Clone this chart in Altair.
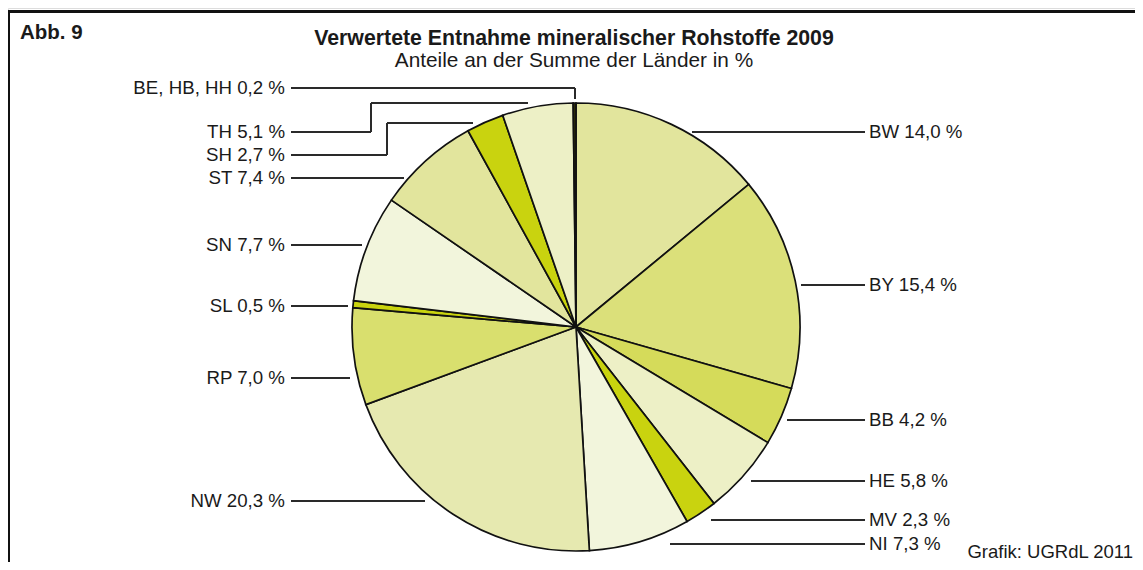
import altair as alt
import pandas as pd

# ---- data ----
laender = ["BW", "BY", "BB", "HE", "MV", "NI", "NW", "RP", "SL", "SN", "ST", "SH", "TH", "BE, HB, HH"]
anteile = [14.0, 15.4, 4.2, 5.8, 2.3, 7.3, 20.3, 7.0, 0.5, 7.7, 7.4, 2.7, 5.1, 0.2]
farben = ["#e2e59d", "#dbe07a", "#d5db5a", "#edf0c6", "#c9d30f", "#f2f5dc", "#e6e9b0",
          "#d9df6e", "#c9d30f", "#f2f5dc", "#e2e59d", "#c9d30f", "#edf0c6", "#2e2e08"]

titel = "Verwertete Entnahme mineralischer Rohstoffe 2009"
untertitel = "Anteile an der Summe der Länder in %"
abb = "Abb. 9"
quelle = "Grafik: UGRdL 2011"

# ---- layout (page pixel coordinates) ----
W, H = 1127, 554
X0, Y0 = 8, 8
CX, CY, R = 576, 327, 224

lab_side = ["r", "r", "r", "r", "r", "r", "l", "l", "l", "l", "l", "l", "l", "l"]
lab_y = [132, 285, 420, 481, 520, 544, 501, 378, 306, 245, 178, 155, 132, 88]
segs = [
    (692, 132, 865, 132), (801, 285, 865, 285), (787, 420, 865, 420),
    (751, 481, 865, 481), (711, 520, 865, 520), (670, 544, 865, 544),
    (291, 501, 425, 501), (291, 378, 350, 378), (291, 306, 348, 306),
    (291, 245, 362, 245), (291, 178, 404, 178),
    (291, 155, 387, 155), (387, 155, 387, 123), (387, 123, 473, 123),
    (291, 132, 371, 132), (371, 132, 371, 103), (371, 103, 528, 103),
    (291, 88, 575, 88), (575, 88, 575, 99),
]

df = pd.DataFrame({
    "land": laender,
    "anteil": anteile,
    "idx": list(range(len(laender))),
})
df["label"] = [f"{l} {a:.1f} %".replace(".", ",") for l, a in zip(laender, anteile)]
df["side"] = lab_side
df["ly"] = lab_y
df["lx"] = [869 if s == "r" else 285 for s in lab_side]

seg_df = pd.DataFrame(segs, columns=["x", "y", "x2", "y2"])

xs = alt.Scale(domain=[X0, X0 + W], range=[0, W], nice=False, zero=False)
ys = alt.Scale(domain=[Y0 + H, Y0], nice=False, zero=False)

pie = alt.Chart(df).mark_arc(outerRadius=R, stroke="#111111", strokeWidth=1.7).encode(
    theta=alt.Theta("anteil:Q", stack=True),
    order=alt.Order("idx:Q"),
    color=alt.Color("land:N", scale=alt.Scale(domain=laender, range=farben), legend=None),
    x=alt.value(CX - X0),
    y=alt.value(CY - Y0),
)

leaders = alt.Chart(seg_df).mark_rule(color="#2a2a2a", strokeWidth=2).encode(
    x=alt.X("x:Q", scale=xs, axis=None),
    x2="x2:Q",
    y=alt.Y("y:Q", scale=ys, axis=None),
    y2="y2:Q",
)

frame_df = pd.DataFrame({
    "x": [7, 8.5], "x2": [1140, 8.5],
    "y": [11.5, 11.5], "y2": [11.5, 575],
})
frame = alt.Chart(frame_df).mark_rule(color="#111111", strokeWidth=3).encode(
    x=alt.X("x:Q", scale=xs, axis=None),
    x2="x2:Q",
    y=alt.Y("y:Q", scale=ys, axis=None),
    y2="y2:Q",
)

FONT = "Liberation Sans"
LAB_SIZE = 18.7

lab_r = alt.Chart(df).transform_filter(alt.datum.side == "r").mark_text(
    align="left", font=FONT, fontSize=LAB_SIZE, color="#1a1a1a", baseline="middle"
).encode(
    x=alt.X("lx:Q", scale=xs, axis=None),
    y=alt.Y("ly:Q", scale=ys, axis=None),
    text="label:N",
)
lab_l = alt.Chart(df).transform_filter(alt.datum.side == "l").mark_text(
    align="right", font=FONT, fontSize=LAB_SIZE, color="#1a1a1a", baseline="middle"
).encode(
    x=alt.X("lx:Q", scale=xs, axis=None),
    y=alt.Y("ly:Q", scale=ys, axis=None),
    text="label:N",
)

txt_df = pd.DataFrame({
    "t": [titel, untertitel, abb, quelle],
    "x": [574, 574, 20, 1133],
    "y": [39, 61, 33, 551.5],
    "bold": [True, False, True, False],
    "align": ["center", "center", "left", "right"],
    "size": [21.3, 20.8, 20.5, 18.5],
})

def txt(i):
    row = txt_df.iloc[[i]]
    return alt.Chart(row).mark_text(
        font=FONT, fontSize=float(row["size"].iloc[0]), color="#1a1a1a", baseline="middle",
        align=row["align"].iloc[0],
        fontWeight="bold" if row["bold"].iloc[0] else "normal",
    ).encode(
        x=alt.X("x:Q", scale=xs, axis=None),
        y=alt.Y("y:Q", scale=ys, axis=None),
        text="t:N",
    )

chart = alt.layer(
    frame, leaders, pie, lab_r, lab_l, txt(0), txt(1), txt(2), txt(3)
).properties(
    width=W, height=H,
    autosize=alt.AutoSizeParams(type="none"),
    padding=0,
).configure_view(stroke=None).configure(background="white")

chart.save("out.html", embed_options={"renderer": "svg", "actions": False})
